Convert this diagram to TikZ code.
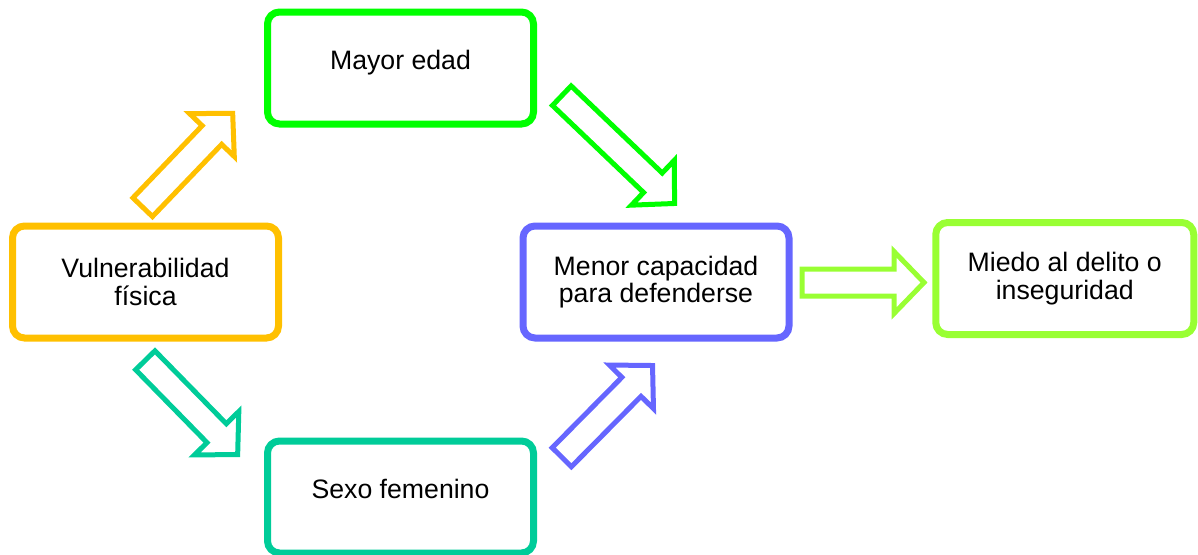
\documentclass[tikz,border=0pt]{standalone}
\usepackage{fontspec}
\setmainfont{Liberation Sans}
\definecolor{cV}{HTML}{FFC000}
\definecolor{cM}{HTML}{00FF00}
\definecolor{cS}{HTML}{00CC99}
\definecolor{cC}{HTML}{6666FF}
\definecolor{cD}{HTML}{99FF33}
\begin{document}
\begin{tikzpicture}[x=0.75pt,y=0.75pt,
    box/.style={draw=#1,line width=5.25pt,rounded corners=9pt,minimum width=199.5pt,minimum height=84pt,
      inner sep=0pt,align=center,font=\fontsize{20}{20.5}\selectfont},
    oneline/.style={text height=14.5pt,text depth=13pt},
    pics/barrow/.style args={#1/#2}{code={
      \draw[draw=#1,line width=3.75pt,line join=miter] (0,-13.5) -- (#2-30,-13.5) -- (#2-30,-31) -- (#2,0)
        -- (#2-30,31) -- (#2-30,13.5) -- (0,13.5) -- cycle;}}]
    \useasboundingbox (0,0) rectangle (1198,-554);
    \node[box=cV] (vul) at (145.5,-282) {Vulnerabilidad\\física};
    \node[box=cM,oneline] (edad) at (400.5,-68) {Mayor edad};
    \node[box=cS,oneline] (sexo) at (400.5,-497) {Sexo femenino};
    \node[box=cC] (cap) at (656,-282) {Menor capacidad\\para defenderse};
    \node[box=cD,minimum width=193.5pt] (miedo) at (1064.75,-278.5) {Miedo al delito o\\inseguridad};
    \def\arrs{{(142.7,-207.2)}/46.2/130/cV,{(561.8,-95.7)}/-43.7/156/cM,{(145.3,-360.3)}/-45.6/132/cS,
      {(561.8,-457.2)}/45.3/129/cC,{(802,-282.5)}/0/122/cD}
    \foreach \p/\a/\l/\c in \arrs {\pic[rotate=\a] at \p {barrow=\c/\l};}
\end{tikzpicture}
\end{document}
